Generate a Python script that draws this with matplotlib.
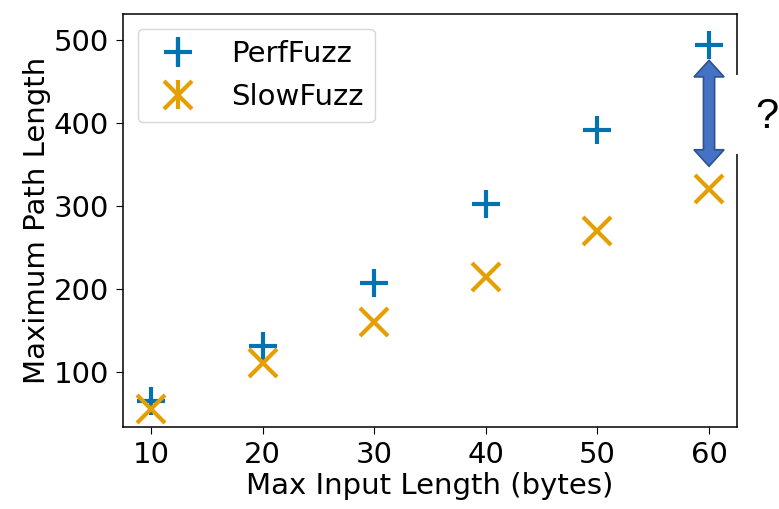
import numpy as np
import matplotlib.pyplot as plt
from matplotlib.patches import Polygon, Rectangle

input_len = [10, 20, 30, 40, 50, 60]
perffuzz = [64, 131, 207, 302, 392, 495]
slowfuzz = [55, 110, 160, 214, 270, 320]

# gap annotation at the last point
arrow_x = 60
arrow_lo = 348
arrow_hi = 476

blue = '#0173B2'
orange = '#E69F00'

plt.rcParams['font.size'] = 21
plt.rcParams['xtick.major.size'] = 5
plt.rcParams['ytick.major.size'] = 5
plt.rcParams['xtick.major.pad'] = 5
plt.rcParams['ytick.major.pad'] = 5
plt.rcParams['axes.linewidth'] = 1.1

fig = plt.figure(figsize=(7.79, 5.09), dpi=100)
ax = fig.add_axes([0.158, 0.161, 0.788, 0.8115])

zeros = np.zeros(len(input_len))
ax.errorbar(input_len, perffuzz, yerr=zeros, fmt='+', color=blue,
            markersize=20, mew=3, elinewidth=3, label='PerfFuzz')
ax.errorbar(input_len, slowfuzz, yerr=zeros, fmt='x', color=orange,
            markersize=20, mew=3, elinewidth=3, label='SlowFuzz')

ax.set_xlim(7.5, 62.5)
ax.set_ylim(33, 532)
ax.set_xticks(input_len)
ax.set_yticks([100, 200, 300, 400, 500])
ax.set_xlabel('Max Input Length (bytes)', labelpad=2)
ax.set_ylabel('Maximum Path Length', labelpad=2)
ax.legend(loc='upper left', fontsize=21)

# double-headed block arrow
bw, hw, hl = 0.5, 1.35, 20
verts = [
    (arrow_x, arrow_hi),
    (arrow_x + hw, arrow_hi - hl),
    (arrow_x + bw, arrow_hi - hl),
    (arrow_x + bw, arrow_lo + hl),
    (arrow_x + hw, arrow_lo + hl),
    (arrow_x, arrow_lo),
    (arrow_x - hw, arrow_lo + hl),
    (arrow_x - bw, arrow_lo + hl),
    (arrow_x - bw, arrow_hi - hl),
    (arrow_x - hw, arrow_hi - hl),
]
ax.add_patch(Polygon(verts, closed=True, facecolor='#4472C4',
                     edgecolor='#2F528F', linewidth=1.2, zorder=5))

# white box with question mark covering the right spine
fig.add_artist(Rectangle((0.944, 1 - 154 / 509), 0.06, 79 / 509,
                         transform=fig.transFigure, facecolor='white',
                         edgecolor='none', zorder=10))
fig.text(0.984, 1 - 117 / 509, '?', fontsize=30, family='Liberation Sans',
         ha='center', va='center', zorder=11)

fig.savefig('out.png', dpi=100)
